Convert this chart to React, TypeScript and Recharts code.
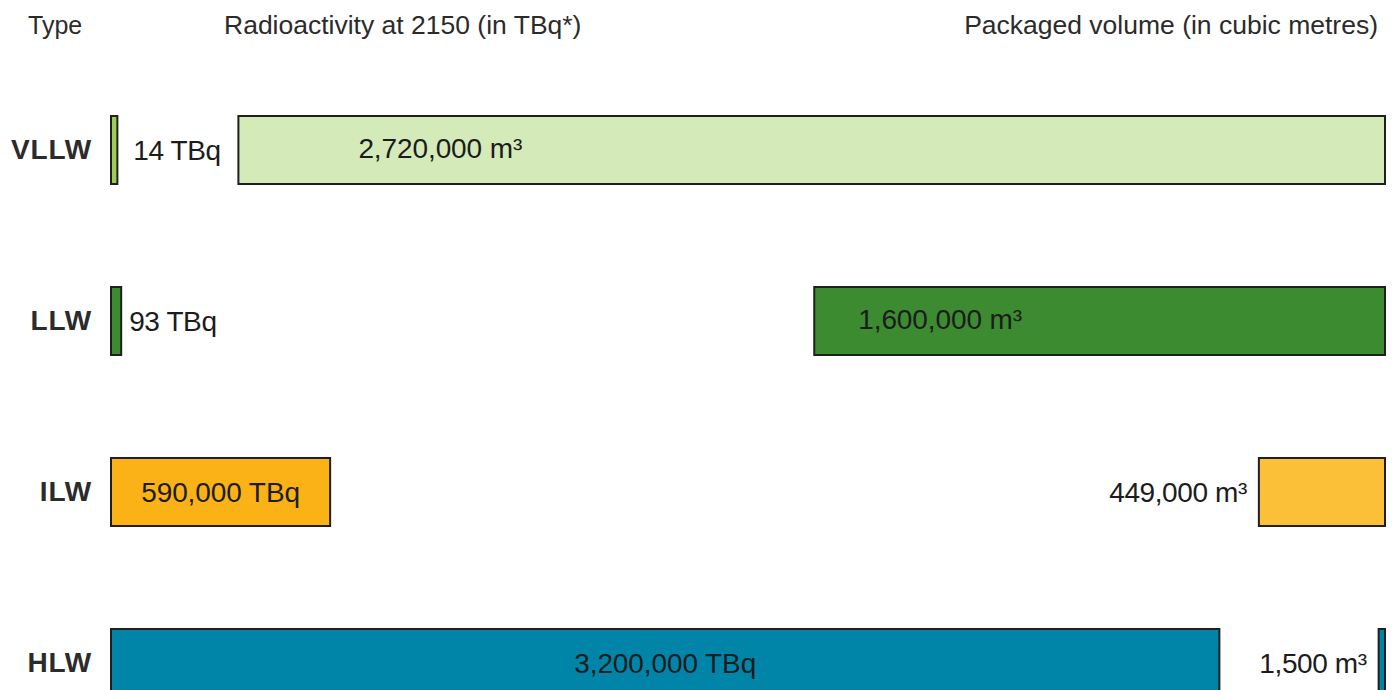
import React from 'react';
import { BarChart, Bar, XAxis, YAxis, Cell, LabelList } from 'recharts';

const wasteTypes = ['VLLW', 'LLW', 'ILW', 'HLW'];
const activityLabels = ['14 TBq', '93 TBq', '590,000 TBq', '3,200,000 TBq'];
const volumeLabels = ['2,720,000 m³', '1,600,000 m³', '449,000 m³', '1,500 m³'];
// bar lengths as drawn in the graphic (not to scale), share of the full row in %
const activityShare = [0.5, 0.8, 17.2, 87.0];
const volumeShare = [90.0, 44.8, 9.9, 0.5];

const activityColors = ['#9ccc52', '#3d8b31', '#fbb216', '#0085a9'];
const volumeColors = ['#d4ebb9', '#3d8b31', '#fbbf38', '#0085a9'];

const font = '"Liberation Sans", Arial, Helvetica, sans-serif';
const labelColor = '#1c1c1c';
const labelSize = 28;
// where the volume label sits inside the wide bars
const volumeInset = [120, 44];

const chartData = wasteTypes.map((type, i) => ({
    type,
    activity: activityShare[i],
    gap: 100 - activityShare[i] - volumeShare[i],
    volume: volumeShare[i],
}));

const renderActivityLabel = (props: any) => {
    const { x, y, width, height, index } = props;
    const cx = Number(x), cy = Number(y), w = Number(width), h = Number(height);
    const text = activityLabels[index];
    if (w < 60) {
        const pad = index === 0 ? 16 : 8;
        return (
            <text x={cx + w + pad} y={cy + h / 2} dominantBaseline="central" textAnchor="start"
                fontSize={labelSize} fontFamily={font} fill={labelColor} letterSpacing={-0.4}>
                {text}
            </text>
        );
    }
    return (
        <text x={cx + w / 2} y={cy + h / 2} dominantBaseline="central" textAnchor="middle"
            fontSize={labelSize} fontFamily={font} fill={labelColor} letterSpacing={-0.1}>
            {text}
        </text>
    );
};

const renderVolumeLabel = (props: any) => {
    const { x, y, width, height, index } = props;
    const cx = Number(x), cy = Number(y), w = Number(width), h = Number(height);
    const text = volumeLabels[index];
    if (w < 200) {
        return (
            <text x={cx - 12} y={cy + h / 2} dominantBaseline="central" textAnchor="end"
                fontSize={labelSize} fontFamily={font} fill={labelColor} letterSpacing={-0.4}>
                {text}
            </text>
        );
    }
    return (
        <text x={cx + (volumeInset[index] ?? 40)} y={cy + h / 2 - 2} dominantBaseline="central" textAnchor="start"
            fontSize={labelSize} fontFamily={font} fill={labelColor} letterSpacing={-0.1}>
            {text}
        </text>
    );
};

const headStyle: React.CSSProperties = {
    position: 'absolute',
    top: 2,
    fontFamily: font,
    fontSize: 26.5,
    lineHeight: '30px',
    color: '#2b2b2b',
    whiteSpace: 'nowrap',
};

const App: React.FC = () => {
    return (
        <div style={{ position: 'relative', width: 1380, height: 740 }}>
            <span style={{ ...headStyle, left: 20, fontSize: 25 }}>Type</span>
            <span style={{ ...headStyle, left: 216 }}>Radioactivity at 2150 (in TBq*)</span>
            <span style={{ ...headStyle, right: 10 }}>Packaged volume (in cubic metres)</span>
            <BarChart
                width={1380}
                height={740}
                data={chartData}
                layout="vertical"
                margin={{ top: 56, right: 3, bottom: 0, left: 0 }}
            >
                <XAxis type="number" domain={[0, 100]} hide />
                <YAxis
                    type="category"
                    dataKey="type"
                    width={103}
                    axisLine={false}
                    tickLine={false}
                    tickSize={0}
                    tickMargin={19}
                    tick={{ fontSize: 28, fontWeight: 700, fill: '#2b2b2b', fontFamily: font, letterSpacing: 0.8 }}
                />
                <Bar dataKey="activity" stackId="row" barSize={68} stroke="#1f1f1f" strokeWidth={2} isAnimationActive={false}>
                    {chartData.map((_, i) => (
                        <Cell key={`a-${i}`} fill={activityColors[i]} />
                    ))}
                    <LabelList dataKey="activity" content={renderActivityLabel} />
                </Bar>
                <Bar dataKey="gap" stackId="row" barSize={68} fill="transparent" isAnimationActive={false} />
                <Bar dataKey="volume" stackId="row" barSize={68} stroke="#1f1f1f" strokeWidth={2} isAnimationActive={false}>
                    {chartData.map((_, i) => (
                        <Cell key={`v-${i}`} fill={volumeColors[i]} />
                    ))}
                    <LabelList dataKey="volume" content={renderVolumeLabel} />
                </Bar>
            </BarChart>
        </div>
    );
};

export default App;
